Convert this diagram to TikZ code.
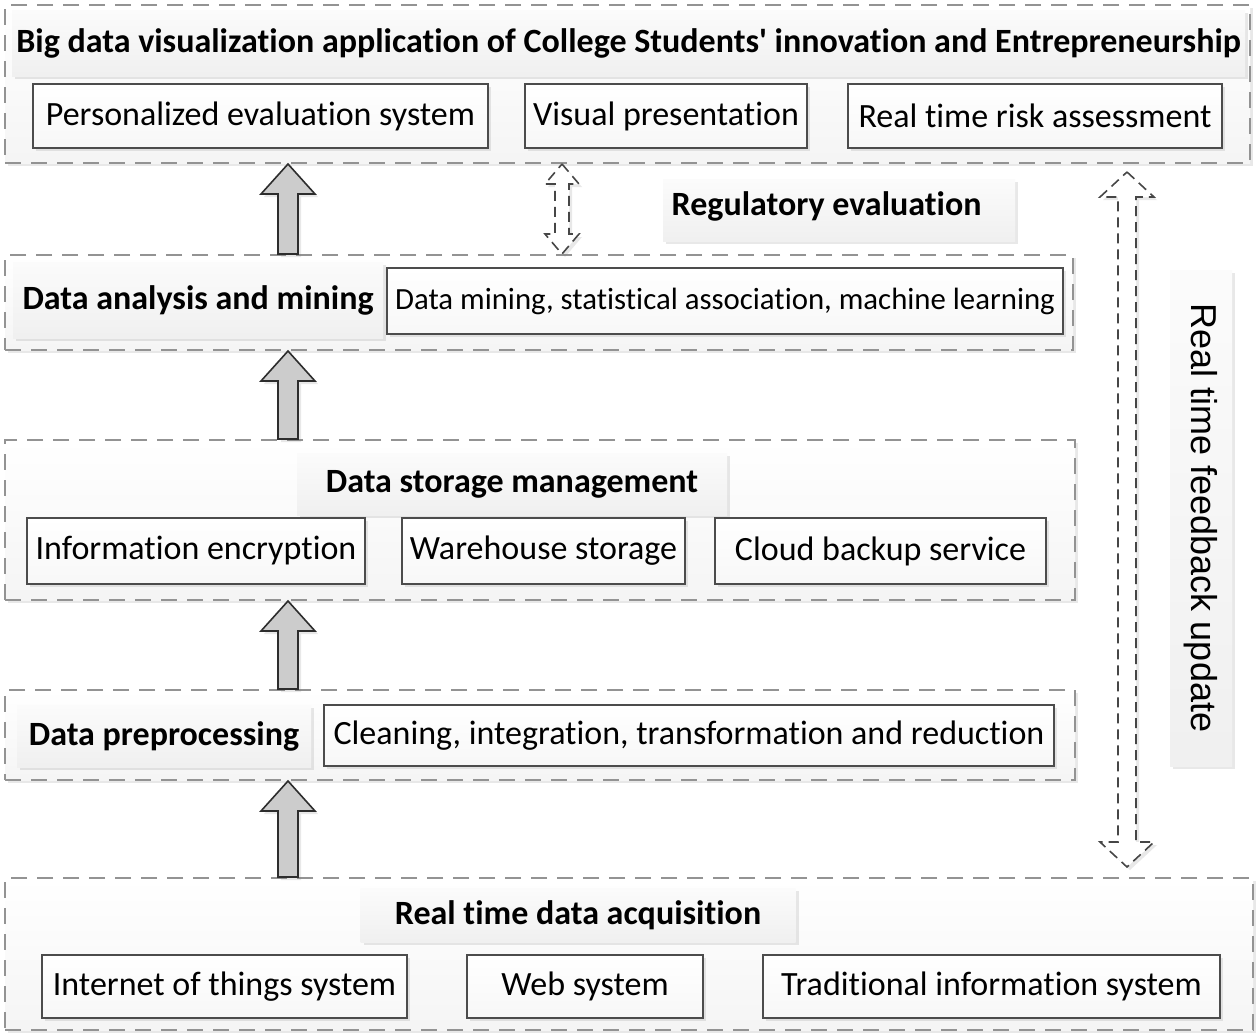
\documentclass[tikz,border=0pt]{standalone}
\usepackage{fontspec}
\setmainfont{Carlito}[Ligatures={TeXOff,NoCommon}]
\newfontfamily\arialfont{Liberation Sans}
\usetikzlibrary{calc,shadows}
% block arrow pointing up, from node #2 to node #3 at the x of coordinate #1
\def\liftarrow(#1)(#2)(#3){\draw[lift] ($(#1 |- #2.north)+(-10,0)$) -- ($(#1 |- #3.south)+(-10,30)$) -- ($(#1 |- #3.south)+(-27,30)$) -- (#1 |- #3.south) -- ($(#1 |- #3.south)+(27,30)$) -- ($(#1 |- #3.south)+(10,30)$) -- ($(#1 |- #2.north)+(10,0)$) -- cycle;}
% hollow two-way arrow between two points (#1 top, #2 bottom), #3 shaft, #4 head, #5 head length
\def\twoway(#1)(#2)(#3:#4:#5){\draw[feed] (#1) -- ($(#1)+(#4,#5)$) -- ($(#1)+(#3,#5)$) -- ($(#2)+(#3,-#5)$) -- ($(#2)+(#4,-#5)$) -- (#2) -- ($(#2)+(-#4,-#5)$) -- ($(#2)+(-#3,-#5)$) -- ($(#1)+(-#3,#5)$) -- ($(#1)+(-#4,#5)$) -- cycle;}

\tikzset{
  soft/.style={drop shadow={shadow xshift=1.5pt, shadow yshift=-1.5pt, opacity=0.18}},
  layer/.style={draw=gray!85, line width=1pt, dash pattern=on 8pt off 5pt, top color=white, bottom color=gray!8, soft},
  head/.style={top color=gray!3, bottom color=gray!12, inner sep=0pt, soft, font=\bfseries\fontsize{17}{20}\selectfont},
  item/.style={draw=black!70, line width=0.7pt, top color=white, bottom color=gray!6, inner sep=0pt, minimum height=32pt, soft},
  lift/.style={draw=gray!35!black, line width=0.8pt, fill=gray!40, soft},
  feed/.style={draw=gray!55!black, line width=0.8pt, dash pattern=on 5pt off 3pt, fill=white, soft},
}

\begin{document}
\begin{tikzpicture}[x=0.5pt, y=-0.5pt, font=\fontsize{17}{20}\selectfont]
  \useasboundingbox (0,0) rectangle (1258,1035);

  %%%%% layers %%%%%
  \node[layer, minimum width=622.5pt, minimum height=79pt] (appl) at (627.5,84) {};
  \node[layer, minimum width=534pt, minimum height=47.5pt] (mining) at (539,302.5) {};
  \node[layer, minimum width=535pt, minimum height=80pt] (storage) at (540,520) {};
  \node[layer, minimum width=535pt, minimum height=45pt] (prep) at (540,735) {};
  \node[layer, minimum width=624pt, minimum height=76pt] (acq) at (629,954) {};

  %%%%% layer titles %%%%%
  \node[head, minimum width=616.5pt, minimum height=33pt] (applhead) at (628.5,43)
    {Big data visualization application of College Students' innovation and Entrepreneurship};
  \node[head, minimum width=185pt, minimum height=38pt] (mininghead) at (198,300) {Data analysis and mining};
  \node[head, minimum width=215pt, minimum height=31pt] (storagehead) at (512,484) {Data storage management};
  \node[head, minimum width=147pt, minimum height=31pt] (prephead) at (164,736) {Data preprocessing};
  \node[head, minimum width=217.5pt, minimum height=27pt] (acqhead) at (578,915) {Real time data acquisition};

  %%%%% items %%%%%
  \node[item, minimum width=227.5pt] (pes) at (260.5,116) {Personalized evaluation system};
  \node[item, minimum width=141pt] (vispres) at (666,116) {Visual presentation};
  \node[item, minimum width=187pt] (risk) at (1035,116) {Real time risk assessment};

  \node[item, minimum width=338pt, minimum height=33pt, font=\fontsize{15.4}{18}\selectfont] (dmsa) at (725,301)
    {Data mining, statistical association, machine learning};

  \node[item, minimum width=169pt, minimum height=33pt] (encr) at (196,551) {Information encryption};
  \node[item, minimum width=141.5pt, minimum height=33pt] (wareh) at (543.5,551) {Warehouse storage};
  \node[item, minimum width=165.5pt, minimum height=33pt] (cloud) at (880.5,551) {Cloud backup service};

  \node[item, minimum width=365pt, minimum height=30.5pt] (clean) at (689,735.5)
    {Cleaning, integration, transformation and reduction};

  \node[item, minimum width=182.5pt, minimum height=31.5pt] (iot) at (224.5,986.5) {Internet of things system};
  \node[item, minimum width=118pt, minimum height=31.5pt] (websys) at (585,986.5) {Web system};
  \node[item, minimum width=228.5pt, minimum height=31.5pt] (trad) at (991.5,986.5) {Traditional information system};

  %%%%% side labels %%%%%
  \node[head, minimum width=176pt, minimum height=31pt] (regul) at (839,210) {};
  \node[anchor=west, font=\bfseries\fontsize{17}{20}\selectfont] (regultext) at ($(regul.west)+(2,-4)$) {Regulatory evaluation};
  \node[head, rotate=-90, minimum width=248pt, minimum height=31pt, font=\arialfont\fontsize{18}{21}\selectfont] (feedback) at (1201,518)
    {Real time feedback update};

  %%%%% arrows %%%%%
  \coordinate (ax) at (288,0);
  \liftarrow(ax)(mining)(appl)
  \liftarrow(ax)(storage)(mining)
  \liftarrow(ax)(prep)(storage)
  \liftarrow(ax)(acq)(prep)

  \coordinate (mx) at (562,0);
  \twoway(mx |- appl.south)(mx |- mining.north)(7:17:20)

  \coordinate (rx) at (1127,0);
  \coordinate (fbtop) at ($(rx |- appl.south)+(0,8)$);
  \coordinate (fbbot) at ($(rx |- acq.north)+(0,-10)$);
  \twoway(fbtop)(fbbot)(9:27:25)
\end{tikzpicture}
\end{document}
